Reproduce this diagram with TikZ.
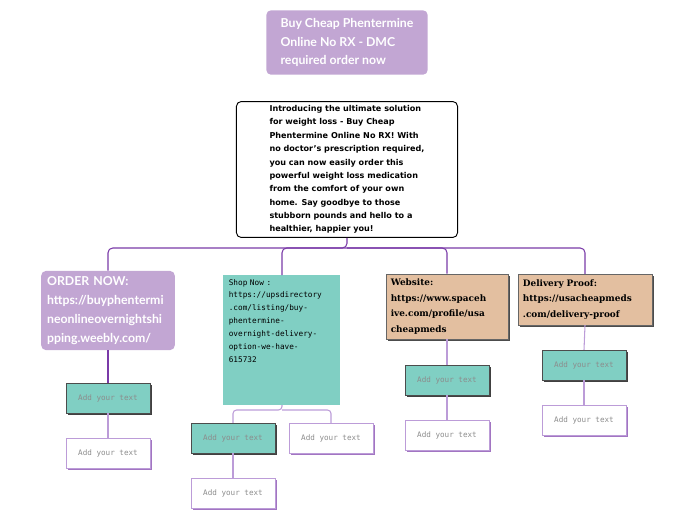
\documentclass[tikz,border=0pt]{standalone}
\usepackage{fontspec}
\setmainfont{DejaVu Sans}
\newfontfamily\titlefont{Lato}
\newfontfamily\monofont{DejaVu Sans Mono}
\newfontfamily\slabfont{DejaVu Serif}
\usetikzlibrary{shadows}
\definecolor{lilac}{HTML}{C2A6D3}
\definecolor{teal}{HTML}{80CFC3}
\definecolor{tan}{HTML}{E3BFA0}
\definecolor{mainline}{HTML}{7A3AA8}
\definecolor{subline}{HTML}{BC9CD8}
\tikzset{
  topic/.style={fill=lilac, rounded corners=4pt, text=white, align=left, inner sep=5pt,
    font=\titlefont\bfseries\fontsize{10.5}{16}\selectfont},
  intro/.style={draw=black, thick, fill=white, rounded corners=4pt, align=left,
    font=\bfseries\fontsize{6.9}{11.4}\selectfont},
  shop/.style={fill=teal, align=left, anchor=north west,
    font=\monofont\fontsize{6.6}{11}\selectfont},
  link/.style={fill=tan, draw=black!60, align=left, inner sep=4pt,
    drop shadow={shadow xshift=1.5pt, shadow yshift=-1.5pt, fill=black!70, opacity=1},
    font=\slabfont\bfseries\fontsize{7.6}{13.5}\selectfont},
  addbox/.style={minimum width=71.4pt, minimum height=25.5pt, text=black!45,
    font=\monofont\fontsize{6.5}{8}\selectfont},
  tealbox/.style={addbox, fill=teal, draw=black!70,
    drop shadow={shadow xshift=1.5pt, shadow yshift=-1.5pt, fill=black!75, opacity=1}},
  whitebox/.style={addbox, fill=white, draw=subline,
    drop shadow={shadow xshift=1.5pt, shadow yshift=-1.5pt, fill=mainline!70, opacity=1}},
  trunk/.style={draw=mainline, line width=0.9pt, rounded corners=4pt},
  branch/.style={draw=subline, line width=0.9pt, rounded corners=3pt}
}
\begin{document}
\begin{tikzpicture}[x=0.03cm, y=-0.03cm]
  \useasboundingbox (0,0) rectangle (696,520);

  % Top level
  \node[topic, minimum width=137.7pt, minimum height=55pt] (title) at (347,42.5)
    {Buy Cheap Phentermine\\Online No RX - DMC\\required order now};
  \node[intro, minimum width=188.7pt, minimum height=114.7pt] (intro) at (347,169.5)
    {Introducing the ultimate solution\\for weight loss - Buy Cheap\\Phentermine Online No RX! With\\no doctor's prescription required,\\you can now easily order this\\powerful weight loss medication\\from the comfort of your own\\home. Say goodbye to those\\stubborn pounds and hello to a\\healthier, happier you!};

  % Main topics
  \node[topic, minimum width=113.9pt, minimum height=62pt, text width=104pt] (order) at (108,310.5)
    {ORDER NOW:\\https://buyphentermi\\neonlineovernightshi\\pping.weebly.com/};
  \node[shop, minimum width=99.5pt, minimum height=104.5pt, text width=90pt] (shop) at (223,275)
    {Shop Now :\\https://upsdirectory\\.com/listing/buy-\\phentermine-\\overnight-delivery-\\option-we-have-\\615732\\~\\~\\~};
  \node[link, minimum width=103.7pt, minimum height=55.2pt, text width=96pt] (site) at (447,306.5)
    {Website:\\https://www.spaceh\\ive.com/profile/usa\\cheapmeds};
  \node[link, minimum width=113.9pt, minimum height=43.4pt, text width=106pt] (proof) at (585,299.5)
    {Delivery Proof:\\https://usacheapmeds\\.com/delivery-proof};

  % Subtopics
  \node[tealbox] (o1) at (108,398) {Add your text};
  \node[whitebox] (o2) at (108,453) {Add your text};
  \node[tealbox] (s1) at (233,438) {Add your text};
  \node[whitebox] (s2) at (331,438) {Add your text};
  \node[whitebox] (s3) at (233,493) {Add your text};
  \node[tealbox] (w1) at (447,380) {Add your text};
  \node[whitebox] (w2) at (447,435) {Add your text};
  \node[tealbox] (p1) at (584,365) {Add your text};
  \node[whitebox] (p2) at (584,420) {Add your text};

  % Connectors
  \coordinate (bus) at (347,248);
  \coordinate (shopbus) at (282,410);
  \draw[trunk] (intro.south) -- (bus) -| (order.north);
  \draw[trunk] (bus) -| (shop.north -| 282,0);
  \draw[trunk] (bus) -| (site.north);
  \draw[trunk] (bus) -| (proof.north);
  \draw[trunk] (order.south) -- (o1.north);
  \draw[branch] (o1.south) -- (o2.north);
  \draw[branch] (shop.south -| shopbus) -- (shopbus) -| (s1.north);
  \draw[branch] (shopbus) -| (s2.north);
  \draw[branch] (s1.south) -- (s3.north);
  \draw[branch] (site.south) -- (w1.north);
  \draw[branch] (w1.south) -- (w2.north);
  \draw[branch] (proof.south) -- (p1.north);
  \draw[branch] (p1.south) -- (p2.north);
\end{tikzpicture}
\end{document}
